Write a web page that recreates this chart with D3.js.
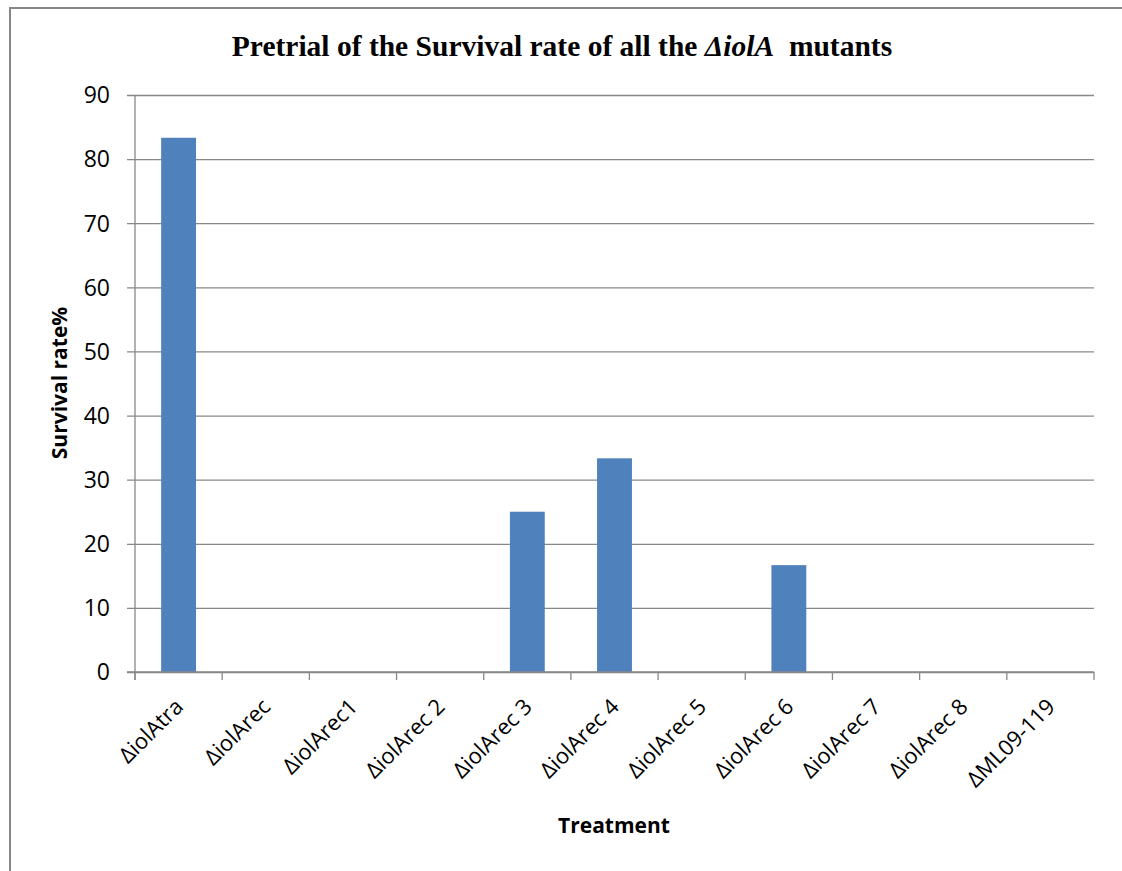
<!DOCTYPE html>
<html>
<head>
<meta charset="utf-8">
<script src="https://cdn.jsdelivr.net/npm/d3@7"></script>
<style>
  html, body { margin: 0; padding: 0; background: #fff; }
  svg { display: block; }
</style>
</head>
<body>
<svg id="chart" width="1122" height="871"></svg>
<script>
// Survival rate (%) per strain
const categories = ["ΔiolAtra", "ΔiolArec", "ΔiolArec1", "ΔiolArec 2", "ΔiolArec 3", "ΔiolArec 4",
                    "ΔiolArec 5", "ΔiolArec 6", "ΔiolArec 7", "ΔiolArec 8", "ΔML09-119"];
const survival = [83.33, 0, 0, 0, 25, 33.33, 0, 16.67, 0, 0, 0];
const yTicks = [0, 10, 20, 30, 40, 50, 60, 70, 80, 90];

const svg = d3.select("#chart");
const margin = { left: 135, right: 1094, top: 95, bottom: 672 };
const labelFont = "'Open Sans', 'Noto Sans', sans-serif";

// outer frame
svg.append("path")
  .attr("d", "M10,880 L10,8 L1130,8")
  .attr("fill", "none")
  .attr("stroke", "#888")
  .attr("stroke-width", 2);

const x = d3.scaleBand().domain(categories).range([margin.left, margin.right]).paddingInner(0.6).paddingOuter(0.3);
const xStep = d3.scaleBand().domain(categories).range([margin.left, margin.right]);
const y = d3.scaleLinear().domain([0, 90]).range([margin.bottom, margin.top]);

// horizontal gridlines with outside tick stubs
const yAxis = d3.axisLeft(y).tickValues(yTicks).tickSize(-(margin.right - margin.left)).tickPadding(25).tickFormat(d3.format("d"));
const gy = svg.append("g").attr("transform", `translate(${margin.left},0)`).call(yAxis);
gy.select(".domain").remove();
gy.selectAll(".tick line").attr("stroke", "#888").attr("x1", -8).attr("stroke-width", 1.3);
gy.selectAll(".tick text").attr("font-family", labelFont).attr("font-size", 23).attr("fill", "#000").attr("dy", "0.34em");

// vertical axis line
svg.append("line")
  .attr("x1", margin.left).attr("x2", margin.left)
  .attr("y1", margin.top).attr("y2", margin.bottom + 8)
  .attr("stroke", "#888").attr("stroke-width", 1.3);

// bars
svg.append("g").selectAll("rect")
  .data(categories)
  .join("rect")
  .attr("x", d => x(d))
  .attr("width", x.bandwidth())
  .attr("y", (d, i) => y(survival[i]))
  .attr("height", (d, i) => y(0) - y(survival[i]))
  .attr("fill", "#4f81bd");

// category boundary ticks below the baseline
const bounds = categories.map(c => xStep(c)).concat([margin.right]);
svg.append("g").selectAll("line")
  .data(bounds)
  .join("line")
  .attr("x1", d => d).attr("x2", d => d)
  .attr("y1", margin.bottom).attr("y2", margin.bottom + 8)
  .attr("stroke", "#888").attr("stroke-width", 1.3);

// baseline
svg.append("line")
  .attr("x1", margin.left - 8).attr("x2", margin.right)
  .attr("y1", margin.bottom).attr("y2", margin.bottom)
  .attr("stroke", "#888").attr("stroke-width", 1.3);

// rotated category labels
svg.append("g").selectAll("text")
  .data(categories)
  .join("text")
  .attr("transform", d => `translate(${xStep(d) + xStep.bandwidth() / 2 + 6},${margin.bottom + 36}) rotate(-45)`)
  .attr("text-anchor", "end")
  .attr("font-family", labelFont)
  .attr("font-size", 22)
  .attr("fill", "#000")
  .text(d => d);

// axis titles
svg.append("text")
  .attr("x", 614).attr("y", 833)
  .attr("text-anchor", "middle")
  .attr("font-family", labelFont)
  .attr("font-size", 21).attr("font-weight", "bold")
  .text("Treatment");

svg.append("text")
  .attr("transform", "translate(67,383) rotate(-90)")
  .attr("text-anchor", "middle")
  .attr("font-family", labelFont)
  .attr("font-size", 21).attr("font-weight", "bold")
  .text("Survival rate%");

// chart title
const title = svg.append("text")
  .attr("x", 562).attr("y", 56)
  .attr("text-anchor", "middle")
  .attr("font-family", "'Liberation Serif', 'Times New Roman', serif")
  .attr("font-size", 29.5).attr("font-weight", "bold");
title.append("tspan").text("Pretrial of the Survival rate of all the ");
title.append("tspan").attr("font-style", "italic").text("ΔiolA");
title.append("tspan").text("  mutants").attr("xml:space", "preserve");
</script>
</body>
</html>
